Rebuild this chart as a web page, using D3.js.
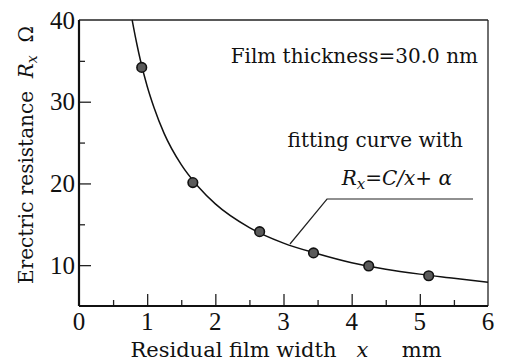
<!DOCTYPE html>
<html><head><meta charset="utf-8">
<script src="https://cdn.jsdelivr.net/npm/d3@7"></script>
</head>
<body style="margin:0;background:#fff"><svg id="c" width="505" height="363"></svg>
<script>
// data
const pointX = [0.92, 1.67, 2.65, 3.44, 4.25, 5.13];
const pointY = [34.2, 20.1, 14.1, 11.5, 9.9, 8.7];
const curveX = [0.78, 0.8, 0.85, 0.9, 1.0, 1.1, 1.25, 1.5, 1.75, 2.0, 2.5, 3.0, 3.5, 4.0, 4.5, 5.0, 5.5, 6.0];
const curveY = [40.0, 39.1, 37.0, 35.1, 31.9, 29.3, 26.1, 22.3, 19.6, 17.5, 14.6, 12.7, 11.4, 10.3, 9.5, 8.9, 8.4, 7.9];
const xTicks = [0, 1, 2, 3, 4, 5, 6];
const xMinor = [0.5, 1.5, 2.5, 3.5, 4.5, 5.5];
const yTicks = [10, 20, 30, 40];
const yMinor = [15, 25, 35];

const SERIF = "DejaVu Serif";
const TICKF = "Liberation Serif";
const svg = d3.select("#c").attr("font-family", SERIF);
const L = 79, R = 488, T = 20, B = 306;
const x = d3.scaleLinear().domain([0, 6]).range([L, R]);
const y = d3.scaleLinear().domain([5, 40]).range([B, T]);

// frame
svg.append("line").attr("x1", L).attr("x2", R).attr("y1", T).attr("y2", T).attr("stroke", "#222").attr("stroke-width", 1.3);
svg.append("line").attr("x1", R).attr("x2", R).attr("y1", T).attr("y2", B).attr("stroke", "#222").attr("stroke-width", 1.3);

function styleTicks(g) {
  g.select(".domain").remove();
  g.selectAll(".tick line").attr("stroke", "#222").attr("stroke-width", 1.3);
}
svg.append("g").attr("transform", `translate(0,${B})`)
  .call(d3.axisTop(x).tickValues(xTicks.filter(d => d > 0 && d < 6)).tickSize(12).tickFormat("")).call(styleTicks);
svg.append("g").attr("transform", `translate(0,${B})`)
  .call(d3.axisTop(x).tickValues(xMinor).tickSize(6).tickFormat("")).call(styleTicks);
svg.append("g").attr("transform", `translate(${L},0)`)
  .call(d3.axisRight(y).tickValues(yTicks.filter(d => d < 40)).tickSize(12).tickFormat("")).call(styleTicks);
svg.append("g").attr("transform", `translate(${L},0)`)
  .call(d3.axisRight(y).tickValues(yMinor).tickSize(6).tickFormat("")).call(styleTicks);

svg.append("line").attr("x1", L).attr("x2", R).attr("y1", B).attr("y2", B).attr("stroke", "#111").attr("stroke-width", 2.2);
svg.append("line").attr("x1", L).attr("x2", L).attr("y1", T).attr("y2", B).attr("stroke", "#111").attr("stroke-width", 2.2);

// tick labels
svg.selectAll(".xl").data(xTicks).enter().append("text")
  .attr("font-family", TICKF).attr("fill", "#111")
  .attr("x", d => x(d)).attr("y", 330).attr("text-anchor", "middle")
  .attr("font-size", 25).text(d => d);
svg.selectAll(".yl").data(yTicks).enter().append("text")
  .attr("font-family", TICKF).attr("fill", "#111")
  .attr("x", L - 4).attr("y", d => y(d) + 8.5).attr("text-anchor", "end")
  .attr("font-size", 25).text(d => d);

// curve
const line = d3.line().x(d => x(d[0])).y(d => y(d[1])).curve(d3.curveMonotoneX);
svg.append("path").datum(curveX.map((v, i) => [v, curveY[i]]))
  .attr("d", line).attr("fill", "none").attr("stroke", "#111").attr("stroke-width", 1.5);

// points
svg.selectAll(".pt").data(pointX.map((v, i) => [v, pointY[i]])).enter().append("circle")
  .attr("cx", d => x(d[0])).attr("cy", d => y(d[1])).attr("r", 4.8)
  .attr("fill", "#5a5a5a").attr("stroke", "#111").attr("stroke-width", 1.6);

// leader line
svg.append("polyline").attr("points", "290,244 327,199 473,199")
  .attr("fill", "none").attr("stroke", "#222").attr("stroke-width", 1.2);

// annotations
svg.append("text").attr("x", 478).attr("y", 63).attr("text-anchor", "end").attr("font-size", 20).attr("fill", "#111").text("Film thickness=30.0 nm");
svg.append("text").attr("x", 463).attr("y", 147).attr("text-anchor", "end").attr("font-size", 20).attr("fill", "#111").text("fitting curve with");
const f = svg.append("text").attr("x", 452).attr("y", 185).attr("text-anchor", "end").attr("font-size", 20).attr("fill", "#111");
f.append("tspan").attr("font-style", "italic").text("R");
f.append("tspan").attr("font-style", "italic").attr("font-size", 15).attr("dy", 4).text("x");
f.append("tspan").attr("dy", -4).text("=");
f.append("tspan").attr("font-style", "italic").text("C/x");
f.append("tspan").text("+ ");
f.append("tspan").attr("font-style", "italic").text("α");

// axis titles
const xt = svg.append("text").attr("x", 286).attr("y", 357).attr("text-anchor", "middle").attr("font-size", 21).attr("fill", "#111");
xt.append("tspan").text("Residual film width\u00a0\u00a0 ");
xt.append("tspan").attr("font-style", "italic").text("x");
xt.append("tspan").text("\u00a0\u00a0\u00a0\u00a0 mm");

const yt = svg.append("text").attr("transform", "translate(33,155) rotate(-90)").attr("text-anchor", "middle").attr("font-size", 20).attr("fill", "#111");
yt.append("tspan").text("Erectric resistance\u00a0 ");
yt.append("tspan").attr("font-style", "italic").text("R");
yt.append("tspan").attr("font-style", "italic").attr("font-size", 14).attr("dy", 4).text("x");
yt.append("tspan").attr("dy", -4).text("\u00a0\u00a0Ω");
</script></body></html>
